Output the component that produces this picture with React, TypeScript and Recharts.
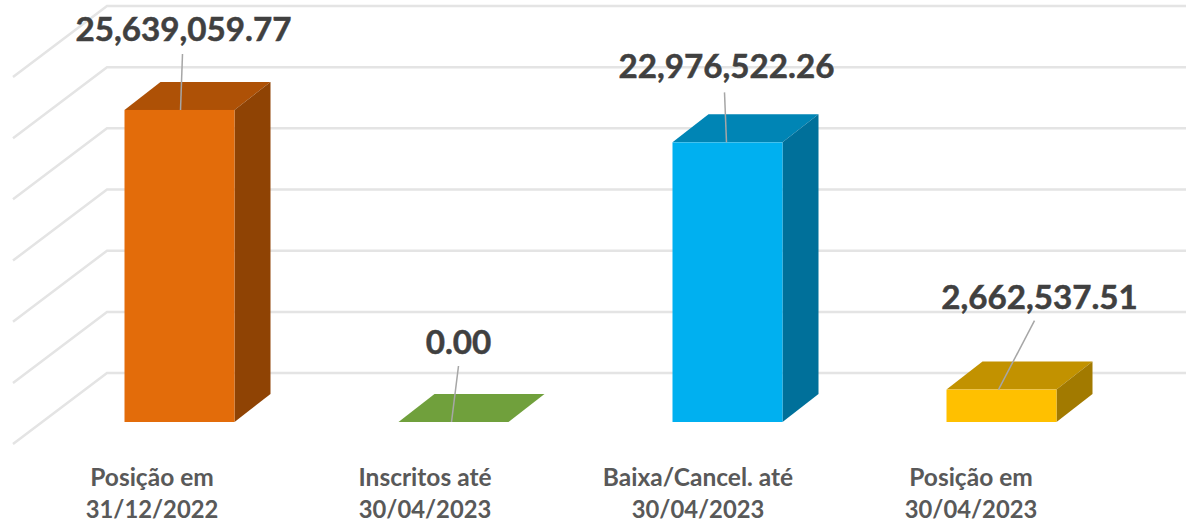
import { ComposedChart, Bar, Line, XAxis, YAxis, LabelList, CartesianGrid } from 'recharts';

const categories = ['Posição em\n31/12/2022', 'Inscritos até\n30/04/2023', 'Baixa/Cancel. até\n30/04/2023', 'Posição em\n30/04/2023'];
const values = [25639059.77, 0, 22976522.26, 2662537.51];
const gridTicks = [0, 5000000, 10000000, 15000000, 20000000, 25000000, 30000000];

const frontColors = ['#E36C0A', '#70A03C', '#00B0F0', '#FFC000'];
const topColors = ['#AE5106', '#70A03C', '#0085B5', '#C29200'];
const sideColors = ['#8F4304', '#70A03C', '#00709A', '#A27A00'];

// label centre and leader line, relative to the middle of the bar's top edge
const labelPlacement = [
  { dx: 4, baseline: -69, lineTopX: 3, lineTopY: -56, lineEndX: 1 },
  { dx: 5, baseline: -68, lineTopX: 5, lineTopY: -56, lineEndX: -2 },
  { dx: -1, baseline: -64, lineTopX: -3, lineTopY: -50, lineEndX: -1 },
  { dx: 38, baseline: -81, lineTopX: 33, lineTopY: -69, lineEndX: -3 },
];

const chartData = categories.map((name, i) => ({ name, value: values[i] }));

const WIDTH = 1186;
const PLOT_BOTTOM = 422;
const DEPTH_X = 36;
const DEPTH_Y = 28;

function GridLine(props: any) {
  const y = props.y1;
  // the grid also hands over the plot's bottom edge, which is not a tick
  if (y >= PLOT_BOTTOM - 1) return null;
  return (
    <polyline
      key={props.key}
      points={`13,${y + 71} 107,${y} ${WIDTH},${y}`}
      fill="none"
      stroke="#E4E4E4"
      strokeWidth={2.5}
    />
  );
}

function Bar3D(props: any) {
  const { x, y, width, height, index } = props;
  const r = x + width;
  const b = y + height;
  return (
    <g>
      <polygon
        points={`${x},${y} ${x + DEPTH_X},${y - DEPTH_Y} ${r + DEPTH_X},${y - DEPTH_Y} ${r},${y}`}
        fill={topColors[index]}
      />
      {height > 0 && (
        <polygon
          points={`${r},${y} ${r + DEPTH_X},${y - DEPTH_Y} ${r + DEPTH_X},${b - DEPTH_Y} ${r},${b}`}
          fill={sideColors[index]}
        />
      )}
      {height > 0 && <rect x={x} y={y} width={width} height={height} fill={frontColors[index]} />}
    </g>
  );
}

function ValueLabel(props: any) {
  const { x, y, width, value, index } = props;
  const p = labelPlacement[index];
  const cx = x + width / 2;
  return (
    <g>
      <line x1={cx + p.lineTopX} y1={y + p.lineTopY} x2={cx + p.lineEndX} y2={y} stroke="#A6A6A6" strokeWidth={1.5} />
      <text
        x={cx + p.dx}
        y={y + p.baseline}
        textAnchor="middle"
        fontFamily="Lato, sans-serif"
        fontWeight={700}
        fontSize={33.2}
        fill="#404040"
        stroke="#404040"
        strokeWidth={0.5}
      >
        {Number(value).toLocaleString('en-US', { minimumFractionDigits: 2, maximumFractionDigits: 2 })}
      </text>
    </g>
  );
}

function CategoryTick(props: any) {
  const { x, payload, index } = props;
  const lines = String(payload.value).split('\n');
  const cx = x - 27.5 - index;
  return (
    <g fontFamily="Lato, sans-serif" fontWeight={700} fill="#595959" textAnchor="middle">
      <text x={cx} y={486} fontSize={24.5}>{lines[0]}</text>
      <text x={cx} y={518} fontSize={23.8}>{lines[1]}</text>
    </g>
  );
}

export default function App() {
  return (
    <div style={{ position: 'absolute', left: 0, top: 0 }}>
      <ComposedChart
        width={WIDTH}
        height={522}
        data={chartData}
        margin={{ top: 6, right: 47.5, bottom: 0, left: 42.5 }}
      >
        <XAxis
          dataKey="name"
          axisLine={false}
          tickLine={false}
          height={100}
          interval={0}
          tick={<CategoryTick />}
        />
        <YAxis yAxisId="bars" hide domain={[0, 34180000]} />
        <YAxis yAxisId="grid" hide domain={[-4000000, 30000000]} ticks={gridTicks} />
        {/* invisible series: the grid axis only gets a scale when something is plotted on it */}
        <Line yAxisId="grid" dataKey="value" stroke="none" dot={false} legendType="none" isAnimationActive={false} />
        <CartesianGrid yAxisId="grid" vertical={false} horizontal={GridLine} />
        <Bar yAxisId="bars" dataKey="value" barSize={110} shape={<Bar3D />} isAnimationActive={false}>
          <LabelList dataKey="value" content={<ValueLabel />} />
        </Bar>
      </ComposedChart>
    </div>
  );
}
